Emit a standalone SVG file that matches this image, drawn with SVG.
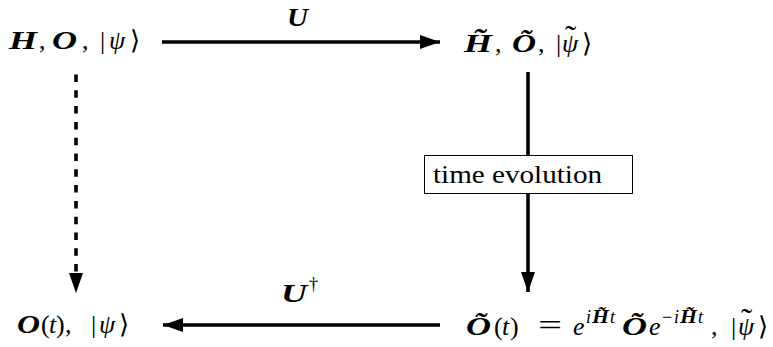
<svg xmlns="http://www.w3.org/2000/svg" width="773" height="347" viewBox="0 0 773 347">
<defs>
<style>
.t{font-size:26px;fill:#000}
.bi{font-weight:bold;font-style:italic}
.it{font-style:italic}
.sup{font-size:18px}
.ln{stroke:#000;stroke-width:3.6;fill:none}
</style>
<marker id="ah" markerWidth="20" markerHeight="14" refX="20" refY="7" orient="auto" markerUnits="userSpaceOnUse">
<path d="M0,0 L20,7 L0,14 Z" fill="#000"/>
</marker>
</defs>
<g font-family="Liberation Serif">
<g id="connectors">
<line class="ln" x1="162" y1="42" x2="440" y2="42" marker-end="url(#ah)"/>
<line class="ln" x1="440" y1="325" x2="163" y2="325" marker-end="url(#ah)"/>
<line class="ln" x1="528" y1="72" x2="528" y2="292" marker-end="url(#ah)"/>
<line class="ln" x1="76" y1="74.5" x2="76" y2="274" stroke-dasharray="7.5 8.3"/>
<path d="M69,273 L83,273 L76,293 Z" fill="#000"/>
<text x="287" y="26" class="t bi" textLength="21" lengthAdjust="spacingAndGlyphs">U</text>
<text y="302" class="t"><tspan x="281" class="bi" textLength="26" lengthAdjust="spacingAndGlyphs">U</tspan><tspan x="309" dy="-12" class="sup">†</tspan></text>
</g>
<g id="node-tl">
<text y="49" class="t"><tspan x="9" class="bi" textLength="28" lengthAdjust="spacingAndGlyphs">H</tspan><tspan x="39">,</tspan><tspan x="52" class="bi" textLength="25" lengthAdjust="spacingAndGlyphs">O</tspan><tspan x="82">,</tspan><tspan x="100">|</tspan><tspan x="109" class="it">ψ</tspan><tspan x="130">⟩</tspan></text>
</g>
<g id="node-tr">
<text y="52" class="t"><tspan x="464" class="bi" textLength="28" lengthAdjust="spacingAndGlyphs">H̃</tspan><tspan x="495">,</tspan><tspan x="512" class="bi" textLength="24" lengthAdjust="spacingAndGlyphs">Õ</tspan><tspan x="538">,</tspan><tspan x="556">|</tspan><tspan x="562" class="it">ψ</tspan><tspan x="582">⟩</tspan><tspan x="565" dy="-3" font-size="34">˜</tspan></text>
</g>
<g id="node-time">
<rect x="424.5" y="155.5" width="208" height="38" fill="#fff" stroke="#000" stroke-width="1"/>
<text x="433" y="183" class="t" font-size="25" textLength="169" lengthAdjust="spacingAndGlyphs">time evolution</text>
</g>
<g id="node-bl">
<text y="333" class="t"><tspan x="17" class="bi" textLength="23" lengthAdjust="spacingAndGlyphs">O</tspan><tspan x="41">(</tspan><tspan x="49" class="it">t</tspan><tspan x="56">)</tspan><tspan x="65">,</tspan><tspan x="91">|</tspan><tspan x="99" class="it">ψ</tspan><tspan x="119">⟩</tspan></text>
</g>
<g id="node-br">
<text y="335" class="t"><tspan x="466" class="bi" textLength="25" lengthAdjust="spacingAndGlyphs">Õ</tspan><tspan x="494">(</tspan><tspan x="502" class="it">t</tspan><tspan x="510">)</tspan><tspan x="538" font-size="30" textLength="24" lengthAdjust="spacingAndGlyphs">=</tspan><tspan x="573" class="it">e</tspan><tspan x="586" dy="-12" class="sup it">i</tspan><tspan x="592" class="sup bi" textLength="17" lengthAdjust="spacingAndGlyphs">H̃</tspan><tspan x="610" class="sup it">t</tspan><tspan x="622" dy="12" class="bi" textLength="25" lengthAdjust="spacingAndGlyphs">Õ</tspan><tspan x="649" class="it">e</tspan><tspan x="662" dy="-12" class="sup">−</tspan><tspan x="674" class="sup it">i</tspan><tspan x="680" class="sup bi" textLength="17" lengthAdjust="spacingAndGlyphs">H̃</tspan><tspan x="698" class="sup it">t</tspan><tspan x="711" dy="12">,</tspan><tspan x="731">|</tspan><tspan x="738" class="it">ψ</tspan><tspan x="758">⟩</tspan><tspan x="741" dy="-3" font-size="34">˜</tspan></text>
</g>
</g>
</svg>
